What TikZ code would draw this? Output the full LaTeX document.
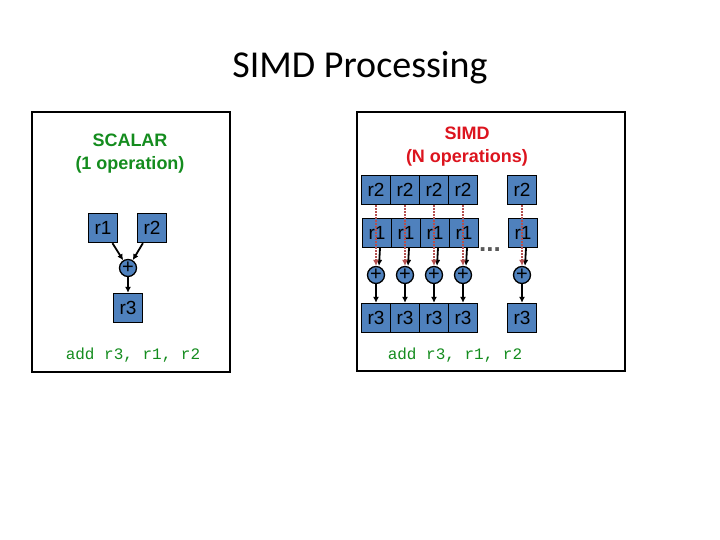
\documentclass[tikz,border=0pt]{standalone}
\usepackage{fontspec}
\setmainfont{Liberation Sans}
\newfontfamily\titlefont{Carlito}
\setmonofont{Liberation Mono}
\usetikzlibrary{arrows.meta}
\definecolor{boxblue}{RGB}{79,129,189}
\definecolor{sgreen}{RGB}{20,140,30}
\definecolor{sred}{RGB}{220,20,30}
\definecolor{dred}{RGB}{180,80,80}
\tikzset{
 reg/.style={draw=black,line width=1.3pt,fill=boxblue,minimum width=29pt,minimum height=29pt,inner sep=0pt,font=\fontsize{19}{19}\selectfont},
 addc/.style={circle,draw=black,line width=1.3pt,fill=boxblue,minimum size=17pt,inner sep=0pt,font=\fontsize{20}{20}\selectfont},
 arr/.style={-{Latex[length=6pt,width=6pt]},line width=1.8pt},
 darr/.style={-{Latex[length=6pt,width=6pt]},line width=2.5pt,dred,dash pattern=on 2pt off 1pt},
 frame/.style={draw=black,line width=2pt},
 code/.style={font=\ttfamily\fontsize{16}{16}\selectfont,text=sgreen}
}
\begin{document}
\begin{tikzpicture}[x=1pt,y=-1pt]
\useasboundingbox (0,0) rectangle (720,540);
\node (title) at (360,68) {\titlefont\fontsize{38}{38}\selectfont SIMD Processing};
\draw[frame] (32,112) rectangle (230,372);
\draw[frame] (357,112) rectangle (625,371);
\node[text=sgreen,font=\bfseries\fontsize{18}{23}\selectfont,align=center] (sl) at (130,154) {SCALAR\\(1 operation)};
\node[text=sred,font=\bfseries\fontsize{18}{23}\selectfont,align=center] (ml) at (467,147) {SIMD\\(N operations)};
% scalar
\node[reg] (a1) at (103,228) {r1};
\node[reg] (a2) at (152,228) {r2};
\node[addc] (ap) at (128,268) {+};
\node[reg] (a3) at (128,308) {r3};
\draw[arr] (a1) -- (ap);
\draw[arr] (a2) -- (ap);
\draw[arr] (ap) -- (a3);
\node[code] (c1) at (133,355) {add r3, r1, r2};
% simd
\foreach \i/\x in {1/376,2/405,3/434,4/463,5/522}{
 \node[reg] (b\i) at (\x,190) {r2};
 \node[reg] (r\i) at (\x+1,233) {r1};
 \node[addc] (p\i) at (\x,275) {+};
 \node[reg] (o\i) at (\x,318) {r3};
 \draw[arr] ([xshift=3pt]r\i.south) -- ([xshift=3pt]p\i.north);
 \draw[arr] (p\i) -- (o\i);
 \draw[darr] (b\i.south) -- (p\i.north);
}
\node[font=\bfseries\fontsize{26}{26}\selectfont,text=gray!70!black] (dots) at (490,250) {...};
\node[code] (c2) at (455,355) {add r3, r1, r2};
\end{tikzpicture}
\end{document}
